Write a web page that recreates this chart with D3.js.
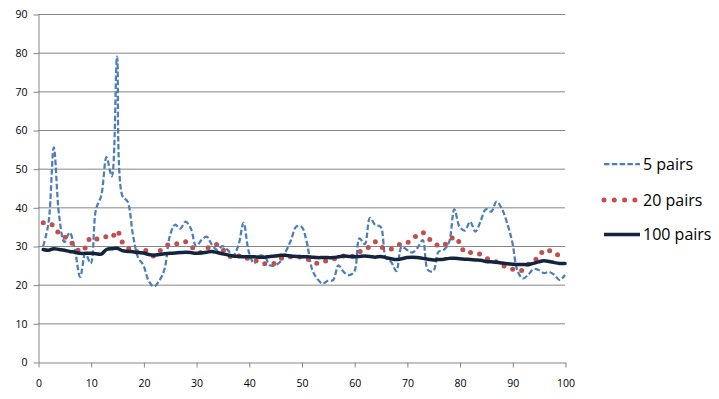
<!DOCTYPE html>
<html>
<head>
<meta charset="utf-8">
<script src="https://cdn.jsdelivr.net/npm/d3@7/dist/d3.min.js"></script>
<style>
body { margin: 0; background: #fff; }
.axis text { font-family: "Open Sans", sans-serif; font-size: 10.5px; fill: #000; }
.axis path, .axis line { stroke: #868686; }
.grid line { stroke: #868686; }
.legend text { font-family: "Open Sans", sans-serif; font-size: 16px; fill: #000; }
</style>
</head>
<body>
<script>
var trials = [1,2,3,4,5,6,7,8,9,10,11,12,13,14,15,16,17,18,19,20,
  21,22,23,24,25,26,27,28,29,30,31,32,33,34,35,36,37,38,39,40,
  41,42,43,44,45,46,47,48,49,50,51,52,53,54,55,56,57,58,59,60,
  61,62,63,64,65,66,67,68,69,70,71,72,73,74,75,76,77,78,79,80,
  81,82,83,84,85,86,87,88,89,90,91,92,93,94,95,96,97,98,99,100];

var pairs5 = [30,36,55.5,38,31,33.5,29,22,28,25.5,39.5,43,53,48,79,43,41.5,33,27,25,
  21,19.5,21,24,32.5,35.5,34.5,36.3,34.5,30,31.5,32.4,30.3,29,30,29,27.5,30,36,28.5,
  25.5,27.5,27.3,25,25,26,28.5,31.5,35,35,31,24,21.5,20.3,21,21.2,25,23.3,22.5,23.3,
  32,30.5,37.3,35.4,35,27,25.9,23.5,29.8,29,28.3,29.5,31.5,23.8,23.5,28.5,29,31,39.5,35,
  34,36.3,33.7,36.5,39.5,38.9,41.5,39.7,36,31,23.5,21.6,22.5,24,23.8,23,23.3,22.5,21.2,22.5];

var pairs20 = [36,35.9,35.2,33.2,32.4,31.3,30,28.5,29.6,32.2,31.8,31.9,32.4,32.2,34,31,29.6,28.7,28.5,29,
  28.4,27.4,28.6,29.8,30.4,30.5,30.8,31.1,30,28.8,28.3,29.3,30,30.4,29.2,27.8,27,27.4,27.5,26.6,
  26.3,26,25.4,25.4,25.6,26.7,27.2,27.2,27.2,27.1,26.7,26,25.5,25.9,26.3,26.6,27,27.4,27.5,27.4,
  28.5,29,30,31.1,29.8,29.4,29.2,30,30.6,30.8,31.8,32.8,33.5,32,31.2,30,30.2,31.2,32.4,30.8,
  28.3,28.3,28.2,27.8,27,26.1,25.9,25.1,24.5,24,23.6,23.8,25.3,26.2,27,29,28.8,28.5,27.2,26.5];

var pairs100 = [29.1,28.9,29.3,29.1,28.9,28.6,28.4,28.1,28.1,28.1,28,27.9,29.1,29.3,29.4,28.8,28.6,28.5,28.3,28.2,
  27.8,27.6,27.8,28,28.1,28.2,28.3,28.4,28.3,28.1,28.2,28.4,28.6,28.3,28,27.7,27.4,27.3,27.2,27.2,
  27.2,27.1,27.1,27.3,27.4,27.6,27.6,27.4,27.3,27.2,27.2,27.1,27,27,27,27,27.2,27.4,27.3,27.2,
  27.3,27.4,27.3,27.1,27.3,27,26.7,26.5,26.7,27,27.1,27,26.8,26.6,26.4,26.5,26.6,26.8,26.8,26.7,
  26.6,26.5,26.4,26.3,26,25.9,25.8,25.6,25.4,25.3,25.2,25.2,25.2,25.5,25.9,26.2,26,25.7,25.5,25.5];

var seriesNames = ['5 pairs', '20 pairs', '100 pairs'];
var xTicks = [0,10,20,30,40,50,60,70,80,90,100];
var yTicks = [0,10,20,30,40,50,60,70,80,90];

var w = 719;
var h = 399;
var margin = {top: 14, left: 38, right: 154, bottom: 37};
var width = w - margin.left - margin.right;
var height = h - margin.top - margin.bottom;

var svg = d3.select('body').append('svg')
            .attr('width', w)
            .attr('height', h)
var chart = svg.append('g')
              .attr('transform', 'translate(' + margin.left + ',' + margin.top + ')')

var x = d3.scaleLinear()
          .domain([0, 100])
          .range([0, width])
var y = d3.scaleLinear()
          .domain([0, 90])
          .range([height, 0])

// gridlines
chart.append('g')
    .classed('grid', true)
    .selectAll('line')
    .data(yTicks.slice(1))
    .enter()
      .append('line')
      .attr('x1', 0)
      .attr('x2', width)
      .attr('y1', function(d){ return y(d) + 0.5 })
      .attr('y2', function(d){ return y(d) + 0.5 })

var xAxis = d3.axisBottom(x)
              .tickValues(xTicks)
              .tickSize(5)
              .tickPadding(12)
              .tickSizeOuter(0)
var yAxis = d3.axisLeft(y)
              .tickValues(yTicks)
              .tickSize(5)
              .tickPadding(6)
              .tickSizeOuter(0)

chart.append('g')
    .classed('y axis', true)
    .attr('transform', 'translate(0.5,0.5)')
    .call(yAxis)
chart.append('g')
    .classed('x axis', true)
    .attr('transform', 'translate(0.5,' + (height + 0.5) + ')')
    .call(xAxis)

function makeLine(values){
  return d3.line()
      .x(function(d, i){ return x(trials[i]) })
      .y(function(d){ return y(d) })
      .curve(d3.curveCatmullRom.alpha(0.5))(values)
}

var styles = [
  {color: '#4a7ebb', width: 2.25, dash: '5.5,2.5', cap: 'butt', legendDash: '5.5,2.3'},
  {color: '#c0504d', width: 5, dash: '0,9.2', cap: 'round', legendDash: '0,10.3'},
  {color: '#14243f', width: 3.5, dash: null, cap: 'round', legendDash: null}
];
var allSeries = [pairs5, pairs20, pairs100];

allSeries.forEach(function(s, i){
  chart.append('path')
      .attr('d', makeLine(s))
      .attr('fill', 'none')
      .attr('stroke', styles[i].color)
      .attr('stroke-width', styles[i].width)
      .attr('stroke-dasharray', styles[i].dash)
      .attr('stroke-linecap', styles[i].cap)
      .attr('stroke-linejoin', 'round')
})

// legend
var legendY = [164, 200, 234.5];
var legend = svg.append('g').classed('legend', true)
seriesNames.forEach(function(name, i){
  legend.append('line')
      .attr('x1', 604)
      .attr('x2', 640)
      .attr('y1', legendY[i])
      .attr('y2', legendY[i])
      .attr('stroke', styles[i].color)
      .attr('stroke-width', styles[i].width)
      .attr('stroke-dasharray', styles[i].legendDash)
      .attr('stroke-linecap', i == 2 ? 'butt' : styles[i].cap)
  legend.append('text')
      .attr('x', 643)
      .attr('y', legendY[i])
      .attr('dy', '0.35em')
      .text(name)
})
</script>
</body>
</html>
